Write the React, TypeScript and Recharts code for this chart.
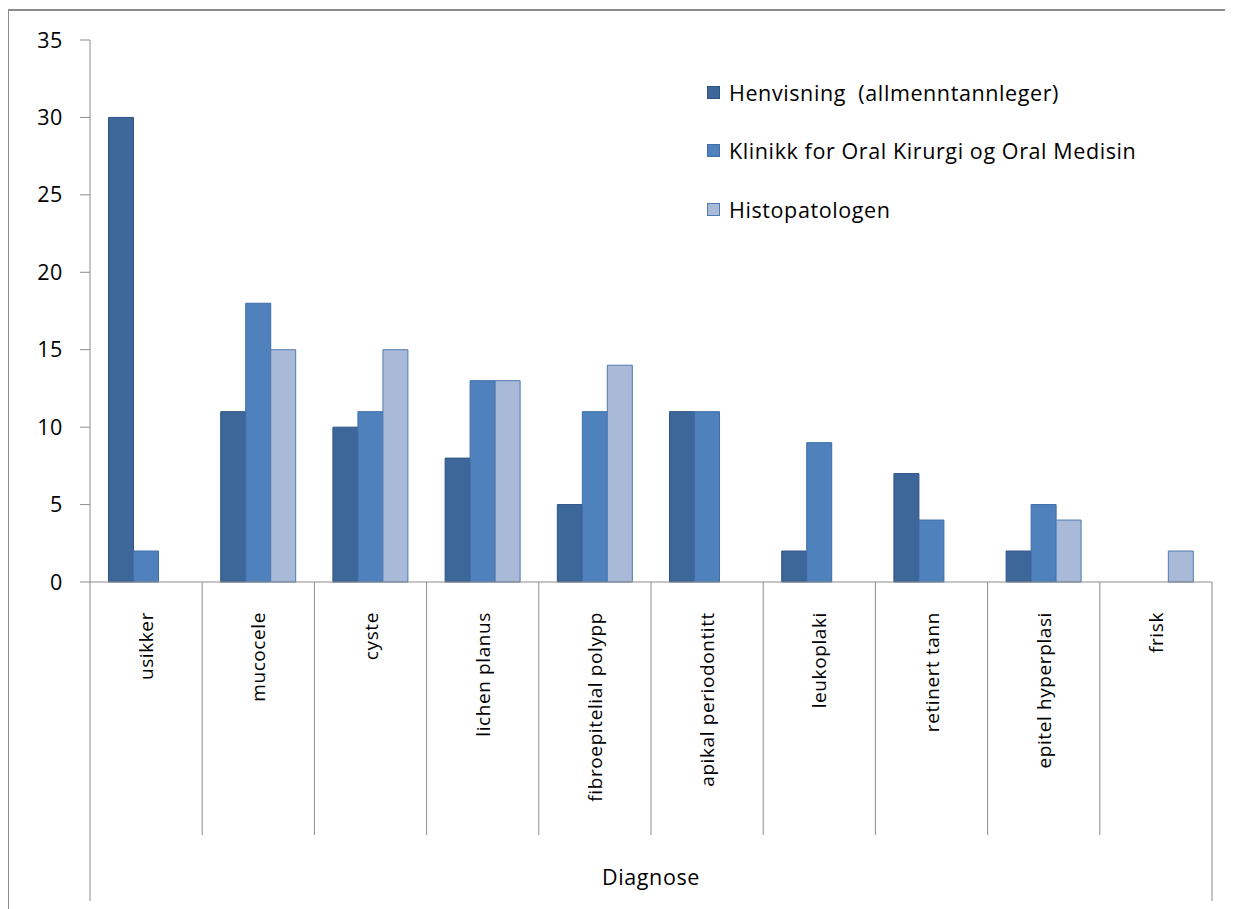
import React from "react";
import { BarChart, Bar, XAxis, YAxis } from "recharts";

const categories = [
  "usikker",
  "mucocele",
  "cyste",
  "lichen planus",
  "fibroepitelial polypp",
  "apikal periodontitt",
  "leukoplaki",
  "retinert tann",
  "epitel hyperplasi",
  "frisk",
];
const henvisning = [30, 11, 10, 8, 5, 11, 2, 7, 2, null];
const klinikk = [2, 18, 11, 13, 11, 11, 9, 4, 5, null];
const histopatologen = [null, 15, 15, 13, 14, null, null, null, 4, 2];
const yTicks = [0, 5, 10, 15, 20, 25, 30, 35];

const seriesNames = [
  "Henvisning  (allmenntannleger)",
  "Klinikk for Oral Kirurgi og Oral Medisin",
  "Histopatologen",
];
const seriesColors = ["#3D6699", "#4F81BD", "#A9B9D8"];
const seriesStrokes = ["#2E5584", "#3D6EA8", "#4F7AB0"];

const data = categories.map((c, i) => ({
  name: c,
  h: henvisning[i],
  k: klinikk[i],
  p: histopatologen[i],
}));

const FONT = "'Open Sans', Lato, sans-serif";
const FS = 19;
const FS_BIG = 21.5;
const LS = 0.6;
const W = 1225;
const H = 901;
const M = { top: 32, right: 21, bottom: 74, left: 0 };
const Y_AXIS_W = 82;
const PLOT_LEFT = M.left + Y_AXIS_W;
const PLOT_RIGHT = W - M.right;
const BAND = (PLOT_RIGHT - PLOT_LEFT) / categories.length;
const AXIS_Y = 574;
const SEP_BOTTOM = 827;
const LONG_BOTTOM = 893;
const GRAY = "#8C8C8C";

const CategoryTick = (props: any) => {
  const { x, payload, index } = props;
  const left = x - BAND / 2;
  const right = x + BAND / 2;
  return (
    <g>
      <line
        x1={left}
        x2={left}
        y1={AXIS_Y}
        y2={index === 0 ? LONG_BOTTOM : SEP_BOTTOM}
        stroke={GRAY}
        strokeWidth={1}
      />
      {index === categories.length - 1 && (
        <line x1={right} x2={right} y1={AXIS_Y} y2={LONG_BOTTOM} stroke={GRAY} strokeWidth={1} />
      )}
      <text
        x={0}
        y={0}
        transform={`translate(${x + 7},${AXIS_Y + 30}) rotate(-90)`}
        textAnchor="end"
        fontFamily={FONT}
        fontSize={FS}
        letterSpacing={LS}
        fill="#000"
      >
        {payload.value}
      </text>
    </g>
  );
};

export default function App() {
  return (
    <div style={{ position: "relative", width: W, height: H, background: "#fff" }}>
      <div
        style={{
          position: "absolute",
          left: -1,
          top: 1,
          width: 1226,
          height: 900,
          boxSizing: "border-box",
          borderTop: `2px solid ${GRAY}`,
          borderLeft: `2px solid ${GRAY}`,
        }}
      />
      <div style={{ position: "absolute", left: 0, top: 0 }}>
        <BarChart
          width={W}
          height={H}
          data={data}
          margin={M}
          barCategoryGap="16.5%"
          barGap={0}
        >
          <XAxis
            dataKey="name"
            interval={0}
            height={SEP_BOTTOM - AXIS_Y}
            axisLine={{ stroke: GRAY }}
            tickLine={false}
            tick={<CategoryTick />}
          />
          <YAxis
            width={Y_AXIS_W}
            domain={[0, 35]}
            ticks={yTicks}
            interval={0}
            axisLine={{ stroke: GRAY }}
            tickLine={{ stroke: GRAY }}
            tickSize={10}
            tickMargin={17}
            tick={{ fontFamily: FONT, fontSize: FS_BIG, fill: "#000", letterSpacing: LS }}
          />
          <Bar dataKey="h" name={seriesNames[0]} fill={seriesColors[0]} stroke={seriesStrokes[0]} strokeWidth={1} isAnimationActive={false} />
          <Bar dataKey="k" name={seriesNames[1]} fill={seriesColors[1]} stroke={seriesStrokes[1]} strokeWidth={1} isAnimationActive={false} />
          <Bar dataKey="p" name={seriesNames[2]} fill={seriesColors[2]} stroke={seriesStrokes[2]} strokeWidth={1} isAnimationActive={false} />
        </BarChart>
      </div>
      <div
        style={{
          position: "absolute",
          left: 699,
          top: 55,
          fontFamily: FONT,
          fontSize: FS_BIG,
          letterSpacing: LS,
          color: "#000",
          whiteSpace: "pre",
        }}
      >
        {seriesNames.map((n, i) => (
          <div key={n} style={{ display: "flex", alignItems: "center", height: 58.5 }}>
            <span
              style={{
                display: "inline-block",
                width: 11,
                height: 11,
                background: seriesColors[i],
                border: `1px solid ${seriesStrokes[i]}`,
                marginRight: 9,
              }}
            />
            <span>{n}</span>
          </div>
        ))}
      </div>
      <div
        style={{
          position: "absolute",
          left: PLOT_LEFT,
          width: PLOT_RIGHT - PLOT_LEFT,
          top: 854,
          textAlign: "center",
          fontFamily: FONT,
          fontSize: FS_BIG,
          letterSpacing: LS,
          color: "#000",
        }}
      >
        Diagnose
      </div>
    </div>
  );
}
